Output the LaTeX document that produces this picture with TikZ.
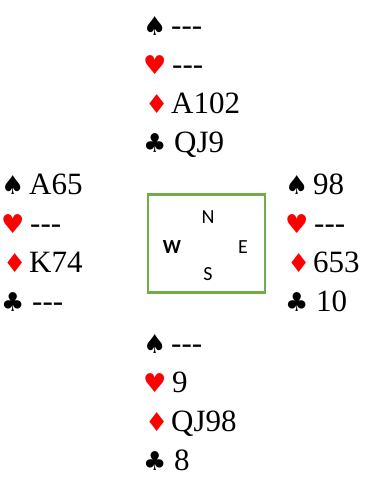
\documentclass[tikz,border=0pt]{standalone}
\usepackage{fontspec}
\setmainfont{Liberation Serif}
\newfontfamily\suitfont{DejaVu Sans}
\newfontfamily\dirfont{Carlito}
\definecolor{suitred}{RGB}{255,0,0}
\definecolor{boxgreen}{RGB}{112,173,71}
\newcommand\nodash{-\kern0pt-\kern0pt-}
\newcommand\bridgehand[7]{%
  \node[suitsym] (#1SP) at (#2,#3) {♠};
  \node[cardtext] (#1sp) at (#2+28,#3) {#4};
  \node[suitsym,text=suitred] (#1HE) at (#2,#3+39.3) {♥};
  \node[cardtext] (#1he) at (#2+29,#3+39.3) {#5};
  \node[suitsym,text=suitred] (#1DI) at (#2+2,#3+78.6) {♦};
  \node[cardtext] (#1di) at (#2+28,#3+78.6) {#6};
  \node[suitsym] (#1CL) at (#2,#3+117.9) {♣};
  \node[cardtext] (#1cl) at (#2+31,#3+117.9) {#7};
}
\begin{document}
\begin{tikzpicture}[x=1pt,y=-1pt,
  cardtext/.style={anchor=base west, inner sep=0pt, font=\fontsize{31}{31}\selectfont},
  suitsym/.style={anchor=base west, inner sep=0pt, font=\suitfont\fontsize{26}{26}\selectfont},
  dirlabel/.style={inner sep=0pt, font=\dirfont\fontsize{20}{20}\selectfont}]
\useasboundingbox (0,0) rectangle (377,491);
\bridgehand{n}{143}{35}{\nodash}{\nodash}{A102}{QJ9}
\bridgehand{w}{1}{194}{A65}{\nodash}{K74}{\nodash}
\bridgehand{e}{285}{194}{98}{\nodash}{653}{10}
\bridgehand{s}{143}{353}{\nodash}{9}{QJ98}{8}
\node[draw=boxgreen, line width=2.2pt, minimum width=117pt, minimum height=98pt, inner sep=0pt] (box) at (206.5,243.5) {};
\node[dirlabel] (dn) at (208,217) {N};
\node[dirlabel] (dw) at (172,247) {\bfseries W};
\node[dirlabel] (de) at (243,247) {E};
\node[dirlabel] (ds) at (208,274) {S};
\end{tikzpicture}
\end{document}
